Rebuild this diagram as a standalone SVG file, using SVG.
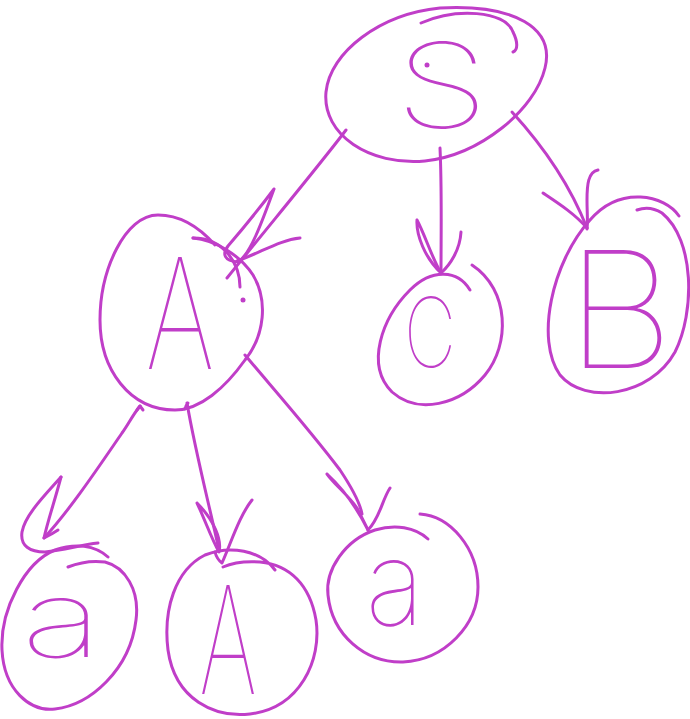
<svg xmlns="http://www.w3.org/2000/svg" width="690" height="719" viewBox="0 0 690 719">
  <style>
    .ink { fill: none; stroke: #C03EC8; stroke-width: 3; stroke-linecap: round; stroke-linejoin: round; }
    .dot { fill: #C03EC8; }
    .lbl { fill: #C03EC8; font-family: Inter, "Open Sans", "DejaVu Sans", sans-serif; font-weight: 100; text-anchor: middle; }
  </style>
  <rect width="690" height="719" fill="#ffffff"/>

  <!-- edges -->
  <g id="connectors">
    <!-- S to A -->
    <path class="ink" d="M346 130 C322 162 272 222 227 278"/>
    <path class="ink" d="M274 189 C262 205 240 232 228 246 C222 254 224 261 238 262 C250 255 262 222 274 189"/>
    <path class="ink" d="M237 261 C262 252 280 240 300 238"/>
    <!-- S to C -->
    <path class="ink" d="M440 148 C442 190 441 235 441 273"/>
    <path class="ink" d="M417 220 C416 235 425 258 441 273 C432 258 425 235 417 220"/>
    <path class="ink" d="M461 232 C460 250 450 265 441 273"/>
    <!-- S to B -->
    <path class="ink" d="M512 112 C545 148 570 185 587 228"/>
    <path class="ink" d="M543 193 C558 203 575 214 587 228" stroke-width="4"/>
    <path class="ink" d="M598 170 C588 172 587 185 587 200 C587 212 588 222 587 229"/>
    <!-- A to a -->
    <path class="ink" d="M140 406 C132 416 128 425 122 433 C100 465 70 510 44 538"/>
    <path class="ink" d="M61 477 C55 500 48 520 44 538 C50 535 55 532 58 530"/>
    <path class="ink" d="M61 477 C45 495 25 515 22 532 C20 546 30 552 45 552 C65 550 80 545 98 543"/>
    <path class="ink" d="M137 410 L140 406 L143 410"/>
    <!-- A to A -->
    <path class="ink" d="M187 403 C195 450 208 500 219 550"/>
    <path class="ink" d="M197 503 C205 520 212 540 219 552 C222 540 214 520 197 503"/>
    <path class="ink" d="M252 500 C240 515 232 540 222 563 C218 560 216 556 215 552"/>
    <path class="ink" d="M185 409 C186 405 187 404 188 403"/>
    <!-- A to a (right) -->
    <path class="ink" d="M245 355 C270 385 310 430 340 470 C352 488 360 503 362 514"/>
    <path class="ink" d="M327 474 C335 485 348 495 357 508 C362 518 366 526 368 530 C362 518 350 495 327 474"/>
    <path class="ink" d="M390 488 C382 500 380 518 368 530"/>
  </g>

  <g id="node-S">
    <path class="ink" d="M440 8 C515 4 555 28 545 68 C535 110 480 155 425 161 C370 166 322 135 326 92 C330 52 380 14 440 8"/>
    <path class="ink" d="M421 23 C455 8 505 10 513 32 C518 42 518 50 513 52"/>
    <circle class="dot" cx="427" cy="65" r="2.5"/>
    <text class="lbl" x="0" y="0" font-size="118" transform="translate(442 128) scale(1.3 1)">S</text>
  </g>

  <g id="node-A">
    <path class="ink" d="M240 287 C240 265 225 238 193 238"/>
    <path class="ink" d="M193 238 C215 240 240 255 253 275 C268 300 265 335 245 360 C225 388 200 410 175 410 C130 410 100 370 100 320 C100 270 125 215 158 215 C180 215 200 228 215 245"/>
    <circle class="dot" cx="243" cy="300" r="2.5"/>
    <text class="lbl" x="0" y="0" font-size="154" transform="translate(180 369) scale(0.7 1)">A</text>
  </g>

  <g id="node-C">
    <path class="ink" d="M470 290 C458 270 432 268 410 290 C382 318 365 365 392 392 C418 415 460 405 485 375 C510 345 510 290 472 265"/>
    <text class="lbl" x="0" y="0" font-size="96" transform="translate(430 367) scale(0.75 1)">C</text>
  </g>

  <g id="node-B">
    <path class="ink" d="M679 216 C665 195 620 185 590 220 C552 262 535 340 560 375 C585 405 650 397 675 352 C695 312 695 240 662 213 C654 208 645 207 637 210"/>
    <text class="lbl" x="0" y="0" font-size="162" transform="translate(620 368) scale(1.05 1)">B</text>
  </g>

  <g id="node-a1">
    <path class="ink" d="M108 557 C95 545 75 543 55 550 C25 562 0 610 2 650 C4 690 30 712 55 709 C90 705 130 670 136 620 C140 590 125 567 105 562 C90 560 78 563 68 567"/>
    <text class="lbl" x="0" y="0" font-size="107" transform="translate(62 657) scale(1.45 1)">a</text>
  </g>

  <g id="node-A2">
    <path class="ink" d="M275 570 C260 550 230 545 205 555 C175 570 163 610 168 650 C175 700 215 718 250 714 C300 708 322 660 316 620 C310 585 290 565 260 562 C245 561 232 563 223 567"/>
    <text class="lbl" x="0" y="0" font-size="150" transform="translate(228 694) scale(0.6 1)">A</text>
  </g>

  <g id="node-a2">
    <path class="ink" d="M428 539 C415 527 395 524 375 530 C345 540 325 570 328 595 C332 635 365 663 403 662 C445 660 478 625 478 587 C478 548 450 516 420 514"/>
    <text class="lbl" x="0" y="0" font-size="118" transform="translate(395 625) scale(0.95 1)">a</text>
  </g>
</svg>
